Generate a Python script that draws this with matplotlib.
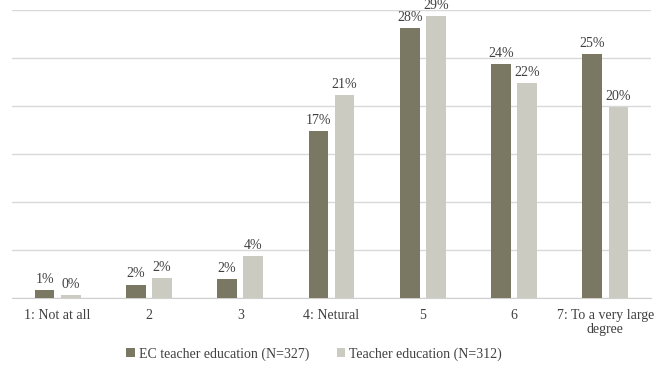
import numpy as np
import matplotlib.pyplot as plt

categories = ['1: Not at all', '2', '3', '4: Netural', '5', '6', '7: To a very large\ndegree']
ec_values = [0.8, 1.4, 2.0, 17.4, 28.1, 24.4, 25.4]
te_values = [0.3, 2.1, 4.4, 21.1, 29.4, 22.4, 19.9]
ec_labels = ['1%', '2%', '2%', '17%', '28%', '24%', '25%']
te_labels = ['0%', '2%', '4%', '21%', '29%', '22%', '20%']

plt.rcParams['font.family'] = ['Liberation Serif', 'DejaVu Serif']

fig = plt.figure(figsize=(6.67, 3.67), dpi=100)
ax = fig.add_axes([12 / 667, 69 / 367, 639 / 667, 288 / 367])

x = np.arange(len(categories))
w = 0.215
off = 0.143
b1 = ax.bar(x - off, ec_values, w, color='#7a7762', label='EC teacher education (N=327)', zorder=3)
b2 = ax.bar(x + off, te_values, w, color='#cccbc1', label='Teacher education (N=312)', zorder=3)

for bars, labs in [(b1, ec_labels), (b2, te_labels)]:
    for b, t in zip(bars, labs):
        ax.annotate(t, (b.get_x() + b.get_width() / 2, b.get_height()),
                    xytext=(0, 3), textcoords='offset points', ha='center', va='bottom',
                    fontsize=10, color='#404040', annotation_clip=False)

ax.set_xlim(-0.5, len(categories) - 0.5)
ax.set_ylim(0, 30)
ax.set_yticks(np.arange(0, 31, 5))
ax.yaxis.grid(True, color='#d9d9d9', linewidth=1)
ax.set_axisbelow(True)
ax.tick_params(axis='y', left=False, labelleft=False)
ax.tick_params(axis='x', length=0, pad=8, labelsize=10, labelcolor='#404040')
ax.set_xticks(x)
ax.set_xticklabels(categories, linespacing=1.05)
for s in ['top', 'left', 'right']:
    ax.spines[s].set_visible(False)
ax.spines['bottom'].set_color('#d0d0d0')

leg = ax.legend(loc='center', bbox_to_anchor=(0.473, -0.195), ncol=2, frameon=False,
                fontsize=10, handlelength=0.6, handleheight=0.6, handletextpad=0.3,
                columnspacing=2.0)
for t in leg.get_texts():
    t.set_color('#404040')

fig.savefig('out.png', dpi=100)
